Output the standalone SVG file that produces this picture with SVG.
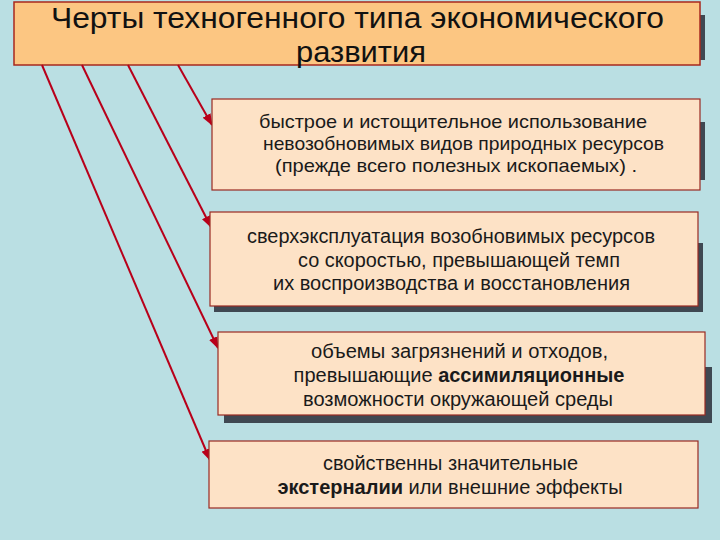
<svg xmlns="http://www.w3.org/2000/svg" width="720" height="540" viewBox="0 0 720 540">
<style>
.bg{fill:#badfe3}
.shadow{fill:#3f4852}
.title{fill:#fcc682;stroke:#a8281e;stroke-width:1.5}
.box{fill:#fde2c6;stroke:#9a2a22;stroke-width:1.2}
.tt{font-family:"Liberation Sans",Arial,sans-serif;font-size:29px;fill:#111}
.t{font-family:"Liberation Sans",Arial,sans-serif;font-size:20px;fill:#1a1a1a}
.s{font-size:19px}
.b{font-weight:bold}
.c{stroke:#b8001a;stroke-width:2;fill:none}
</style>
<defs>
<marker id="ah" markerUnits="userSpaceOnUse" markerWidth="12" markerHeight="10" viewBox="0 0 12 10" refX="11" refY="5" orient="auto">
<path d="M0,0.5 L12,5 L0,9.5 Z" fill="#b8001a"/>
</marker>
</defs>
<rect class="bg" x="0" y="0" width="720" height="540"/>

<g id="title">
<rect class="shadow" x="600" y="15" width="105" height="45"/>
<rect class="title" x="14" y="2" width="686" height="63"/>
<text class="tt" x="357.5" y="28" text-anchor="middle" textLength="613" lengthAdjust="spacingAndGlyphs">Черты техногенного типа экономического</text>
<text class="tt" x="361" y="62" text-anchor="middle" textLength="130" lengthAdjust="spacingAndGlyphs">развития</text>
</g>

<g id="connectors">
<line class="c" x1="178" y1="65" x2="212" y2="125" marker-end="url(#ah)"/>
<line class="c" x1="128" y1="65" x2="211" y2="227" marker-end="url(#ah)"/>
<line class="c" x1="82" y1="65" x2="218" y2="348" marker-end="url(#ah)"/>
<line class="c" x1="42" y1="65" x2="210" y2="460" marker-end="url(#ah)"/>
</g>

<g id="box1">
<rect class="shadow" x="600" y="122" width="105" height="58"/>
<rect class="box" x="212" y="99" width="488" height="91"/>
<text class="t s" x="453" y="128" text-anchor="middle" textLength="388" lengthAdjust="spacingAndGlyphs">быстрое и истощительное использование</text>
<text class="t s" x="463.5" y="150" text-anchor="middle" textLength="401" lengthAdjust="spacingAndGlyphs">невозобновимых видов природных ресурсов</text>
<text class="t s" x="456" y="172" text-anchor="middle" textLength="362" lengthAdjust="spacingAndGlyphs">(прежде всего полезных ископаемых) .</text>
</g>

<g id="box2">
<rect class="shadow" x="214" y="243" width="489" height="69"/>
<rect class="box" x="210" y="212" width="488" height="94"/>
<text class="t" x="451" y="243" text-anchor="middle" textLength="408" lengthAdjust="spacingAndGlyphs">сверхэксплуатация возобновимых ресурсов</text>
<text class="t" x="459" y="267" text-anchor="middle" textLength="322" lengthAdjust="spacingAndGlyphs">со скоростью, превышающей темп</text>
<text class="t" x="451.5" y="290" text-anchor="middle" textLength="357" lengthAdjust="spacingAndGlyphs">их воспроизводства и восстановления</text>
</g>

<g id="box3">
<rect class="shadow" x="224" y="367" width="488" height="56"/>
<rect class="box" x="218" y="332" width="487" height="83"/>
<text class="t" x="459.5" y="358" text-anchor="middle" textLength="297" lengthAdjust="spacingAndGlyphs">объемы загрязнений и отходов,</text>
<text class="t" x="459" y="382" text-anchor="middle">превышающие <tspan class="b">ассимиляционные</tspan></text>
<text class="t" x="458" y="406" text-anchor="middle" textLength="310" lengthAdjust="spacingAndGlyphs">возможности окружающей среды</text>
</g>

<g id="box4">
<rect class="box" x="209" y="441" width="489" height="67"/>
<text class="t" x="450.5" y="470" text-anchor="middle" textLength="255" lengthAdjust="spacingAndGlyphs">свойственны значительные</text>
<text class="t" x="450" y="494" text-anchor="middle"><tspan class="b">экстерналии</tspan> или внешние эффекты</text>
</g>
</svg>
